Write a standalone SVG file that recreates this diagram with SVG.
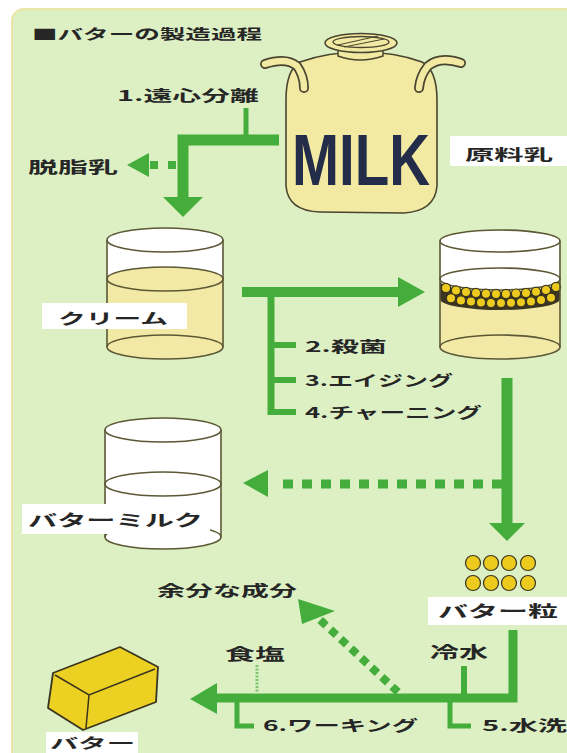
<svg xmlns="http://www.w3.org/2000/svg" width="567" height="753" viewBox="0 0 567 753">
  <defs>
    <style>
      .lbl { font-family: "Noto Sans CJK JP", "Noto Sans", sans-serif; font-weight: 700; fill: #262626; }
      .box { fill: #ffffff; }
      .glass { stroke: #5c5836; stroke-width: 1.6; }
      .flow { fill: none; stroke: #44ad3c; stroke-linejoin: miter; stroke-linecap: butt; }
      .head { fill: #44ad3c; }
      .grain { fill: #ecca1e; stroke: #3a3420; stroke-width: 1.2; }
      .handle-out { fill: none; stroke: #4a4530; stroke-width: 10; stroke-linecap: round; }
      .handle-in { fill: none; stroke: #f2e9a2; stroke-width: 6.5; stroke-linecap: round; }
    </style>
  </defs>

  <!-- background panel -->
  <rect x="0" y="0" width="567" height="753" fill="#ffffff"/>
  <rect x="12" y="9" width="580" height="760" rx="12" fill="#ddf0c4" stroke="#ebe6a6" stroke-width="2"/>

  <text class="lbl" x="32" y="39" font-size="14" textLength="230" lengthAdjust="spacingAndGlyphs">■バターの製造過程</text>

  <!-- connectors -->
  <g id="connectors">
    <!-- 1. centrifugal separation -->
    <path class="flow" d="M246,108 V140" stroke-width="5"/>
    <path class="flow" d="M279,140 H183 V199" stroke-width="11"/>
    <polygon class="head" points="163,197 203,197 183,217"/>
    <path class="flow" d="M176,165 H149" stroke-width="8" stroke-dasharray="8 10"/>
    <polygon class="head" points="127,165 149,153 149,177"/>

    <!-- cream to churn -->
    <path class="flow" d="M242,292 H400" stroke-width="10"/>
    <polygon class="head" points="398,277 425,292 398,307"/>
    <path class="flow" d="M271,292 V415" stroke-width="7"/>
    <path class="flow" d="M271,345 H296 M271,380 H296 M271,412 H296" stroke-width="6"/>

    <!-- churn down to grains -->
    <path class="flow" d="M507,378 V525" stroke-width="11"/>
    <polygon class="head" points="489,523 525,523 507,541"/>
    <path class="flow" d="M502,484 H283" stroke-width="9" stroke-dasharray="10 9"/>
    <polygon class="head" points="243,483 268,470 268,497"/>

    <!-- washing and working -->
    <path class="flow" d="M513,630 V698 H215" stroke-width="9"/>
    <polygon class="head" points="190,699 217,683 217,714"/>
    <path class="flow" d="M464,666 V698" stroke-width="6"/>
    <path class="flow" d="M450,698 V726 H471" stroke-width="5"/>
    <path class="flow" d="M237,698 V726 H254" stroke-width="5"/>
    <path d="M257,665 V692" stroke="#7cc46e" stroke-width="3" stroke-dasharray="2 1.5"/>
    <path class="flow" d="M398,692 L318,618" stroke-width="8" stroke-dasharray="8 6"/>
    <polygon class="head" points="298,599 335,611 302,624"/>
  </g>

  <!-- milk can -->
  <g id="milk-can">
    <path d="M300,62 Q286,70 286,100 L286,186 Q288,211 320,212 L404,213 Q435,211 437,186 L437,100 Q437,70 422,62 Q395,52 361,52 Q328,52 300,62 Z" fill="#f2e9a2" stroke="#4a4530" stroke-width="1.6"/>
    <path d="M338,50 V56 Q360,64 383,56 V50" fill="#f2e9a2" stroke="#4a4530" stroke-width="1.5"/>
    <ellipse cx="361" cy="43" rx="36" ry="9.5" fill="#f2e9a2" stroke="#4a4530" stroke-width="1.6"/>
    <ellipse cx="361" cy="42" rx="28" ry="5.5" fill="none" stroke="#4a4530" stroke-width="1.4"/>
    <path d="M338,45 L378,36 M344,47 L384,39" stroke="#4a4530" stroke-width="1"/>
    <!-- handles -->
    <path class="handle-out" d="M265,64 Q286,57 297,66 Q304,76 304,88"/>
    <path class="handle-in" d="M265,64 Q286,57 297,66 Q304,76 304,88"/>
    <path class="handle-out" d="M461,63 Q440,56 428,66 Q420,76 419,88"/>
    <path class="handle-in" d="M461,63 Q440,56 428,66 Q420,76 419,88"/>
    <text x="292" y="185" font-family="Liberation Sans, sans-serif" font-weight="700" font-size="72" fill="#232c48" textLength="138" lengthAdjust="spacingAndGlyphs">MILK</text>
  </g>
  <g id="raw-milk">
    <rect class="box" x="450" y="136" width="117" height="30"/>
    <text class="lbl" x="465" y="160" font-size="15" textLength="88" lengthAdjust="spacingAndGlyphs">原料乳</text>
  </g>

  <g id="step1">
    <text class="lbl" x="117" y="101" font-size="15" textLength="142" lengthAdjust="spacingAndGlyphs">1.遠心分離</text>
  </g>
  <g id="skim-milk">
    <text class="lbl" x="28" y="173" font-size="16" textLength="90" lengthAdjust="spacingAndGlyphs">脱脂乳</text>
  </g>

  <!-- cream glass -->
  <g id="cream">
    <path d="M107,279 V347 A58,12 0 0 0 223,347 V279 Z" fill="#f1e9a5"/>
    <rect x="107" y="240" width="116" height="39" fill="#ffffff"/>
    <ellipse class="glass" cx="165" cy="279" rx="58" ry="12" fill="#f1e9a5"/>
    <ellipse class="glass" cx="165" cy="240" rx="58" ry="12" fill="#ffffff"/>
    <path class="glass" d="M107,240 V347 M223,240 V347" fill="none"/>
    <ellipse class="glass" cx="165" cy="347" rx="58" ry="12" fill="none"/>
    <rect class="box" x="42" y="303" width="145" height="26"/>
    <text class="lbl" x="58" y="324" font-size="15" textLength="110" lengthAdjust="spacingAndGlyphs">クリーム</text>
  </g>

  <g id="steps-2-4">
    <text class="lbl" x="305" y="352" font-size="15" textLength="82" lengthAdjust="spacingAndGlyphs">2.殺菌</text>
    <text class="lbl" x="305" y="386" font-size="15" textLength="148" lengthAdjust="spacingAndGlyphs">3.エイジング</text>
    <text class="lbl" x="305" y="418" font-size="15" textLength="177" lengthAdjust="spacingAndGlyphs">4.チャーニング</text>
  </g>

  <!-- churned glass with butter grains -->
  <g id="churned">
    <path d="M440,288 V347 A60,12 0 0 0 560,347 V288 Z" fill="#f1e9a5"/>
    <rect x="440" y="241" width="120" height="40" fill="#ffffff"/>
    <path d="M440,281 A60,11 0 0 0 560,281 L560,299 A60,11 0 0 1 440,299 Z" fill="#3a3420"/>
    <ellipse class="glass" cx="500" cy="279" rx="60" ry="11" fill="#ffffff"/>
    <circle class="grain" cx="446" cy="288" r="4.6"/>
    <circle class="grain" cx="456" cy="290.5" r="4.6"/>
    <circle class="grain" cx="466" cy="292" r="4.6"/>
    <circle class="grain" cx="476" cy="293" r="4.6"/>
    <circle class="grain" cx="486" cy="293.7" r="4.6"/>
    <circle class="grain" cx="496" cy="294" r="4.6"/>
    <circle class="grain" cx="506" cy="294" r="4.6"/>
    <circle class="grain" cx="516" cy="293.6" r="4.6"/>
    <circle class="grain" cx="526" cy="293" r="4.6"/>
    <circle class="grain" cx="536" cy="291.8" r="4.6"/>
    <circle class="grain" cx="546" cy="290" r="4.6"/>
    <circle class="grain" cx="556" cy="287" r="4.6"/>
    <circle class="grain" cx="451" cy="298.3" r="4.6"/>
    <circle class="grain" cx="461" cy="300.4" r="4.6"/>
    <circle class="grain" cx="471" cy="301.6" r="4.6"/>
    <circle class="grain" cx="481" cy="302.4" r="4.6"/>
    <circle class="grain" cx="491" cy="302.9" r="4.6"/>
    <circle class="grain" cx="501" cy="303" r="4.6"/>
    <circle class="grain" cx="511" cy="302.8" r="4.6"/>
    <circle class="grain" cx="521" cy="302.3" r="4.6"/>
    <circle class="grain" cx="531" cy="301.4" r="4.6"/>
    <circle class="grain" cx="541" cy="300" r="4.6"/>
    <circle class="grain" cx="551" cy="297.8" r="4.6"/>
    <ellipse class="glass" cx="500" cy="241" rx="60" ry="11" fill="#ffffff"/>
    <path class="glass" d="M440,241 V347 M560,241 V347" fill="none"/>
    <ellipse class="glass" cx="500" cy="347" rx="60" ry="12" fill="none"/>
  </g>

  <!-- buttermilk glass -->
  <g id="buttermilk">
    <rect x="105" y="430" width="116" height="107" fill="#ffffff"/>
    <ellipse class="glass" cx="163" cy="537" rx="58" ry="12" fill="#ffffff"/>
    <ellipse class="glass" cx="163" cy="484" rx="58" ry="12" fill="#ffffff"/>
    <ellipse class="glass" cx="163" cy="430" rx="58" ry="12" fill="#ffffff"/>
    <path class="glass" d="M105,430 V537 M221,430 V537" fill="none"/>
    <rect class="box" x="22" y="504" width="188" height="30"/>
    <text class="lbl" x="28" y="526" font-size="16" textLength="175" lengthAdjust="spacingAndGlyphs">バターミルク</text>
  </g>

  <!-- butter grains -->
  <g id="butter-grains">
    <circle class="grain" cx="473" cy="563" r="7.5"/>
    <circle class="grain" cx="491" cy="563" r="7.5"/>
    <circle class="grain" cx="509" cy="563" r="7.5"/>
    <circle class="grain" cx="528" cy="563" r="7.5"/>
    <circle class="grain" cx="473" cy="583" r="7.5"/>
    <circle class="grain" cx="491" cy="583" r="7.5"/>
    <circle class="grain" cx="509" cy="583" r="7.5"/>
    <circle class="grain" cx="528" cy="583" r="7.5"/>
    <rect class="box" x="428" y="597" width="139" height="28"/>
    <text class="lbl" x="438" y="617" font-size="16" textLength="120" lengthAdjust="spacingAndGlyphs">バター粒</text>
  </g>

  <g id="excess">
    <text class="lbl" x="157" y="596" font-size="15" textLength="140" lengthAdjust="spacingAndGlyphs">余分な成分</text>
  </g>
  <g id="salt">
    <text class="lbl" x="225" y="660" font-size="16" textLength="60" lengthAdjust="spacingAndGlyphs">食塩</text>
  </g>
  <g id="cold-water">
    <text class="lbl" x="430" y="658" font-size="16" textLength="58" lengthAdjust="spacingAndGlyphs">冷水</text>
  </g>
  <g id="steps-5-6">
    <text class="lbl" x="263" y="731" font-size="15" textLength="155" lengthAdjust="spacingAndGlyphs">6.ワーキング</text>
    <text class="lbl" x="482" y="731" font-size="15" textLength="85" lengthAdjust="spacingAndGlyphs">5.水洗</text>
  </g>

  <!-- butter block -->
  <g id="butter">
    <polygon points="53,673 120,647 158,667 156,702 83,730 48,708" fill="#ecd022" stroke="#3a3420" stroke-width="1.8" stroke-linejoin="round"/>
    <path d="M55,675 L89,695 L155,669 M89,695 L86,728" fill="none" stroke="#3a3420" stroke-width="1.5"/>
    <rect class="box" x="46" y="732" width="92" height="21"/>
    <text class="lbl" x="50" y="748" font-size="14" textLength="85" lengthAdjust="spacingAndGlyphs">バター</text>
  </g>
</svg>
